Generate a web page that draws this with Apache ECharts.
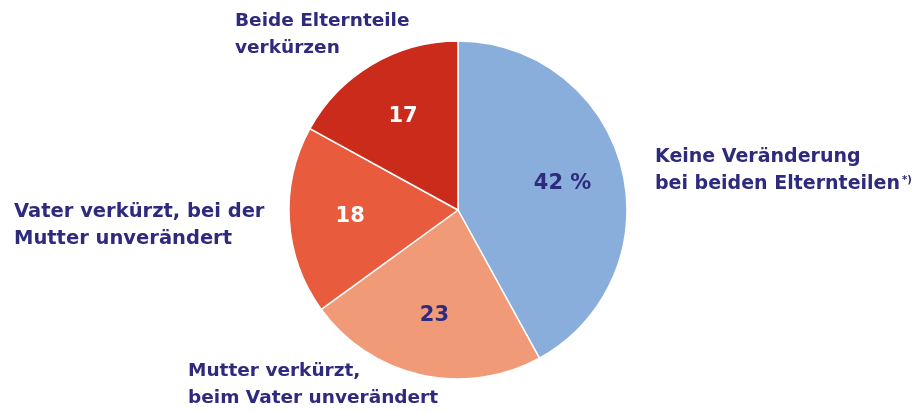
<!DOCTYPE html>
<html>
<head>
<meta charset="utf-8">
<script src="https://cdn.jsdelivr.net/npm/echarts@6/dist/echarts.min.js"></script>
<style>
  html, body { margin: 0; padding: 0; background: #fff; }
  #main { width: 917px; height: 412px; }
</style>
</head>
<body>
<div id="main"></div>
<script>
// Anteile in %, im Uhrzeigersinn ab 12 Uhr
var categories = [
  "Keine Veränderung\nbei beiden Elternteilen{sup|*)}",
  "Mutter verkürzt,\nbeim Vater unverändert",
  "Vater verkürzt, bei der\nMutter unverändert",
  "Beide Elternteile\nverkürzen"
];
var values = [42, 23, 18, 17];
var valueLabels = ["42 %", "23", "18", "17"];

var sliceColors = ["#8aaedc", "#f19a78", "#e95b3d", "#cb2b1b"];
var valueColors = ["#2e2a7e", "#2e2a7e", "#ffffff", "#ffffff"];
// linke obere Ecke der Beschriftungen
var labelPos = [[655, 144], [188, 358], [14, 198], [235, 8]];
var labelSize = [19, 18.5, 19.5, 18.5];

var textColor = "#2e2a7e";
var fontFam = "'DejaVu Sans', sans-serif";

var myChart = echarts.init(document.getElementById("main"));

var sliceData = values.map(function (v, i) {
  return {
    name: categories[i],
    value: v,
    itemStyle: { color: sliceColors[i] },
    label: { fontSize: labelSize[i] }
  };
});
var valueData = values.map(function (v, i) {
  return {
    name: valueLabels[i],
    value: v,
    label: { color: valueColors[i] }
  };
});

var option = {
  backgroundColor: "#fff",
  animation: false,
  series: [
    {
      type: "pie",
      center: [458, 210],
      radius: [0, 169],
      startAngle: 90,
      clockwise: true,
      silent: true,
      itemStyle: { borderColor: "#fff", borderWidth: 1.5 },
      label: {
        show: true,
        position: "outside",
        formatter: "{b}",
        color: textColor,
        fontFamily: fontFam,
        fontWeight: "bold",
        fontSize: 18,
        lineHeight: 27,
        align: "left",
        overflow: "none",
        rich: {
          sup: {
            fontSize: 10,
            fontWeight: "bold",
            fontFamily: fontFam,
            color: textColor,
            padding: [0, 0, 8, 2]
          }
        }
      },
      labelLine: { show: false },
      labelLayout: function (params) {
        var p = labelPos[params.dataIndex];
        return { x: p[0], y: p[1], align: "left", verticalAlign: "top", hideOverlap: false };
      },
      data: sliceData
    },
    {
      // nur für die Zahlen im Kreis
      type: "pie",
      center: [458, 210],
      radius: [0, 210],
      startAngle: 90,
      clockwise: true,
      silent: true,
      itemStyle: { color: "transparent", borderWidth: 0 },
      label: {
        show: true,
        position: "inside",
        formatter: "{b}",
        fontFamily: fontFam,
        fontWeight: "bold",
        fontSize: 21
      },
      labelLine: { show: false },
      data: valueData
    }
  ]
};
myChart.setOption(option);
</script>
</body>
</html>
